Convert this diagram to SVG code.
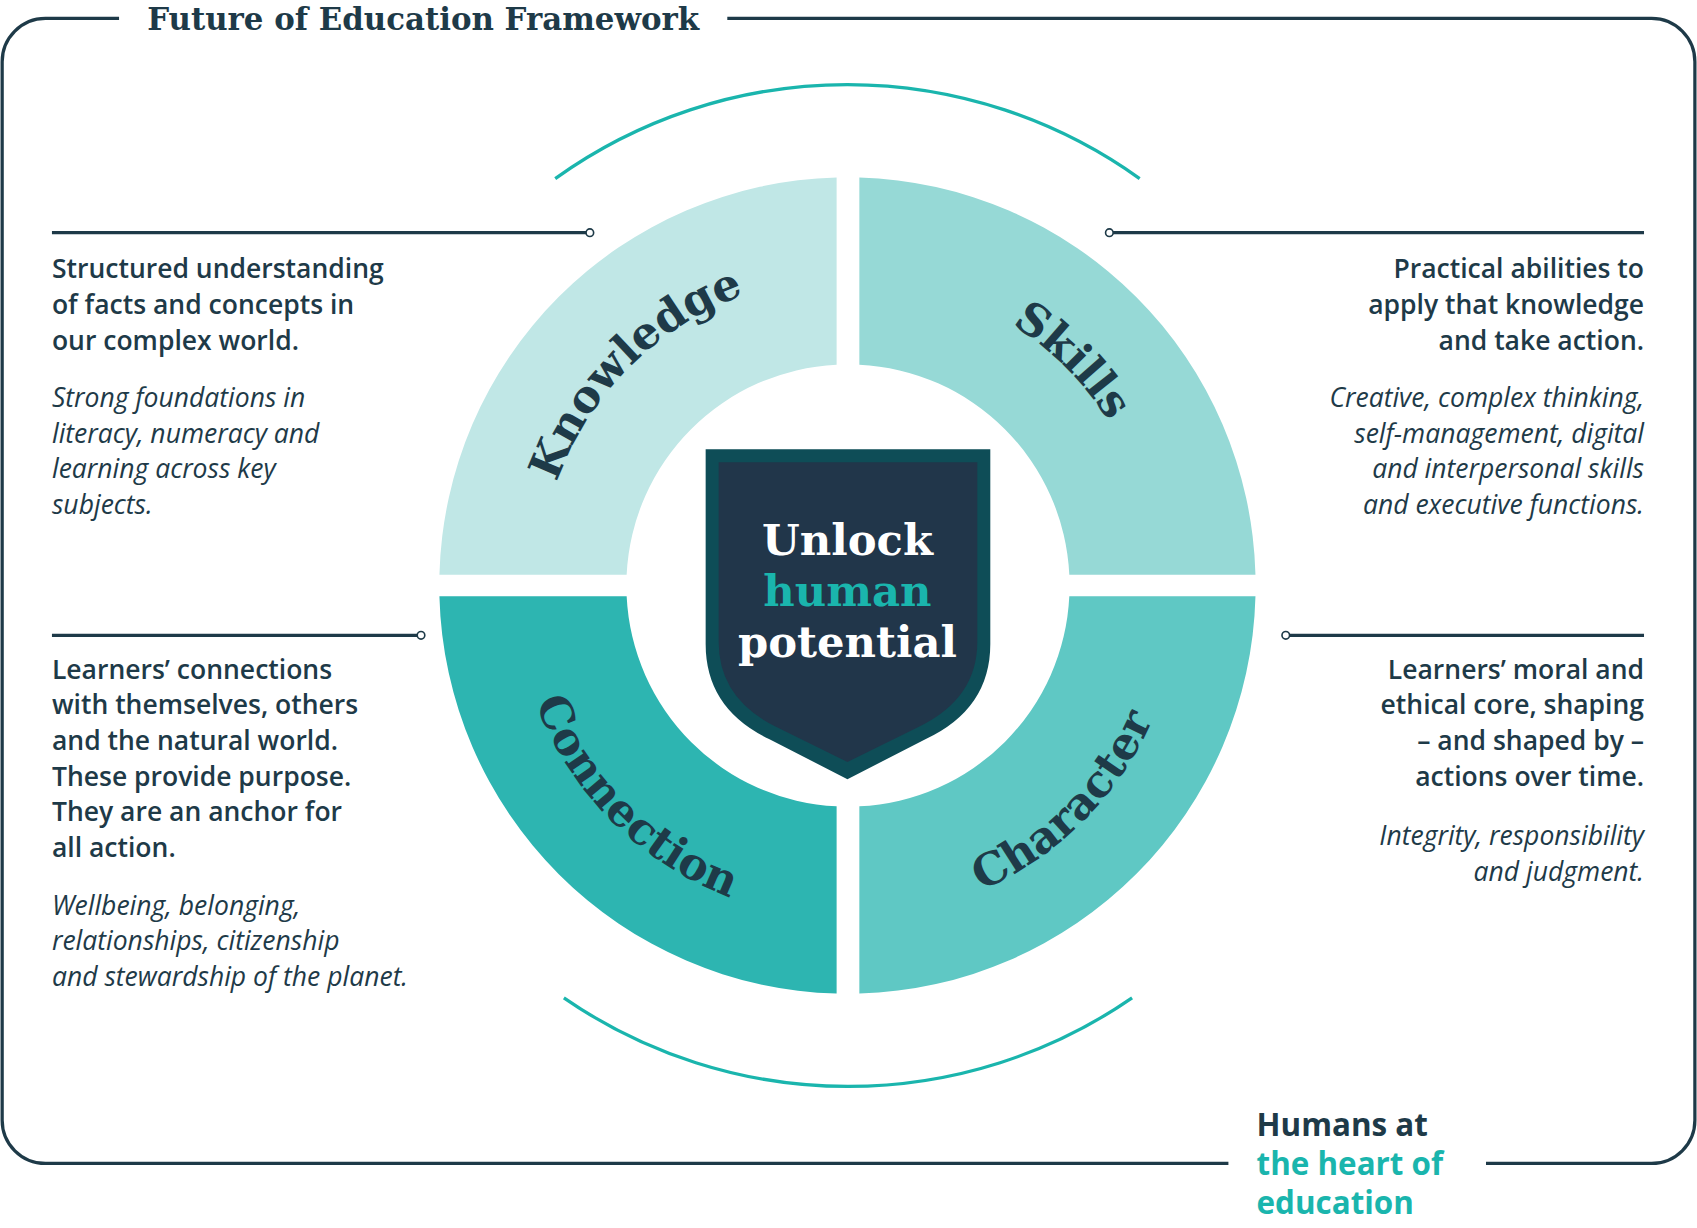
<svg xmlns="http://www.w3.org/2000/svg" width="1697" height="1228" viewBox="0 0 1697 1228">
<style>
.ln{stroke:#1e3a48;stroke-width:3;fill:none}
.dot{fill:#fff;stroke:#1e3a48;stroke-width:1.5}
.arc{stroke:#1ab5ad;stroke-width:3;fill:none}
.t{font-family:"Open Sans",Lato,"Liberation Sans",sans-serif;font-size:24.5px;fill:#1e3a48;font-weight:600}
.i{font-family:"Open Sans",Lato,"Liberation Sans",sans-serif;font-size:24.5px;fill:#1e3a48;font-style:italic}
.q{font-family:"DejaVu Serif","Liberation Serif",serif;font-weight:bold;font-size:41px;fill:#1e3a48}
.c{font-family:"DejaVu Serif","Liberation Serif",serif;font-weight:bold;font-size:40px;fill:#fff;text-anchor:middle}
.h{font-family:"Open Sans",Lato,"Liberation Sans",sans-serif;font-size:29px;font-weight:bold}
</style>
<defs>
<path id="top" d="M 498 541 A 285 285 0 0 1 1068 541"/>
<path id="bot" d="M 475 541 A 308 308 0 0 0 1091 541"/>
</defs>
<rect width="1697" height="1228" fill="#fff"/>
<g transform="scale(1.0823)">
<g id="frame">
<path class="ln" d="M110 17 H42 A40 40 0 0 0 2 57 V1035 A40 40 0 0 0 42 1075 H1135 M1373 1075 H1526 A40 40 0 0 0 1566 1035 V57 A40 40 0 0 0 1526 17 H672"/>
<text x="136" y="28" font-family="'DejaVu Serif','Liberation Serif',serif" font-weight="bold" font-size="28.5" fill="#1e3a48">Future of Education Framework</text>
</g>
<g id="connectors">
<path class="arc" d="M513 165 A463 463 0 0 1 1053 165"/>
<path class="arc" d="M521 922 A462 462 0 0 0 1046 922"/>
<path class="ln" d="M48 215 H545 M1025 215 H1519 M48 587 H389 M1188 587 H1519"/>
<circle class="dot" cx="545" cy="215" r="3.5"/><circle class="dot" cx="1025" cy="215" r="3.5"/>
<circle class="dot" cx="389" cy="587" r="3.5"/><circle class="dot" cx="1188" cy="587" r="3.5"/>
</g>
<g id="knowledge">
<path fill="#c0e7e6" d="M773 164 A377 377 0 0 0 406 531 L579 531 A204 204 0 0 1 773 337 Z"/>
<text class="q"><textPath href="#top" startOffset="25%" text-anchor="middle">Knowledge</textPath></text>
</g>
<g id="skills">
<path fill="#96d9d6" d="M794 164 A377 377 0 0 1 1160 531 L988 531 A204 204 0 0 0 794 337 Z"/>
<text class="q"><textPath href="#top" startOffset="75%" text-anchor="middle">Skills</textPath></text>
</g>
<g id="connection">
<path fill="#2db5b1" d="M773 918 A377 377 0 0 1 406 551 L579 551 A204 204 0 0 0 773 745 Z"/>
<text class="q"><textPath href="#bot" startOffset="25%" text-anchor="middle">Connection</textPath></text>
</g>
<g id="character">
<path fill="#5fc8c4" d="M794 918 A377 377 0 0 0 1160 551 L988 551 A204 204 0 0 1 794 745 Z"/>
<text class="q"><textPath href="#bot" startOffset="75%" text-anchor="middle">Character</textPath></text>
</g>
<g id="center">
<path fill="#0e4d57" d="M652 415 H915 V595 Q915 655 855 683 L783 720 L711 683 Q652 655 652 595 Z"/>
<path fill="#21364a" d="M664 427 H903 V593 Q903 645 850 671 L783 704 L716 671 Q664 645 664 593 Z"/>
<text class="c" x="783" y="513">Unlock</text>
<text class="c" x="783" y="560" style="fill:#1ab5ad">human</text>
<text class="c" x="783" y="607">potential</text>
</g>
<g id="text-knowledge">
<text class="t" x="48" y="257">Structured understanding</text>
<text class="t" x="48" y="290">of facts and concepts in</text>
<text class="t" x="48" y="323">our complex world.</text>
<text class="i" x="48" y="376">Strong foundations in</text>
<text class="i" x="48" y="409">literacy, numeracy and</text>
<text class="i" x="48" y="442">learning across key</text>
<text class="i" x="48" y="475">subjects.</text>
</g>
<g id="text-skills" text-anchor="end">
<text class="t" x="1519" y="257">Practical abilities to</text>
<text class="t" x="1519" y="290">apply that knowledge</text>
<text class="t" x="1519" y="323">and take action.</text>
<text class="i" x="1519" y="376">Creative, complex thinking,</text>
<text class="i" x="1519" y="409">self-management, digital</text>
<text class="i" x="1519" y="442">and interpersonal skills</text>
<text class="i" x="1519" y="475">and executive functions.</text>
</g>
<g id="text-connection">
<text class="t" x="48" y="627">Learners’ connections</text>
<text class="t" x="48" y="660">with themselves, others</text>
<text class="t" x="48" y="693">and the natural world.</text>
<text class="t" x="48" y="726">These provide purpose.</text>
<text class="t" x="48" y="759">They are an anchor for</text>
<text class="t" x="48" y="792">all action.</text>
<text class="i" x="48" y="845">Wellbeing, belonging,</text>
<text class="i" x="48" y="878">relationships, citizenship</text>
<text class="i" x="48" y="911">and stewardship of the planet.</text>
</g>
<g id="text-character" text-anchor="end">
<text class="t" x="1519" y="627">Learners’ moral and</text>
<text class="t" x="1519" y="660">ethical core, shaping</text>
<text class="t" x="1519" y="693">– and shaped by –</text>
<text class="t" x="1519" y="726">actions over time.</text>
<text class="i" x="1519" y="781">Integrity, responsibility</text>
<text class="i" x="1519" y="814">and judgment.</text>
</g>
<g id="humans">
<text class="h" x="1161" y="1050" fill="#1e3a48">Humans at</text>
<text class="h" x="1161" y="1086" fill="#1ab5ad">the heart of</text>
<text class="h" x="1161" y="1122" fill="#1ab5ad">education</text>
</g>
</g>
</svg>
